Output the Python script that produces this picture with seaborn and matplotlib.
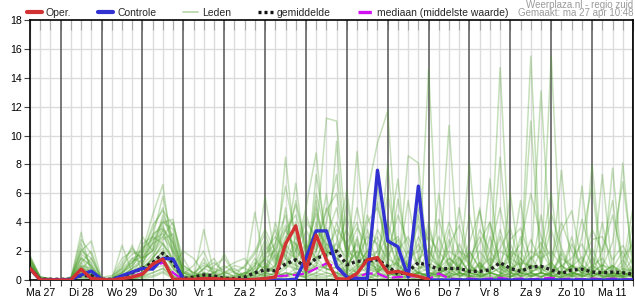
import numpy as np
import pandas as pd
import matplotlib
matplotlib.use("Agg")
import matplotlib.pyplot as plt
from matplotlib.lines import Line2D
import seaborn as sns

# ---------------- data ----------------
day_labels = ["Ma 27", "Di 28", "Wo 29", "Do 30", "Vr 1", "Za 2", "Zo 3", "Ma 4",
              "Di 5", "Wo 6", "Do 7", "Vr 8", "Za 9", "Zo 10", "Ma 11"]
start_hour = 6          # Ma 27 06:00
step_hours = 6
n_steps = 60

oper = [0.8, 0, 0, 0, 0, 0.75, 0.1, 0.05, 0, 0.1,
        0.2, 0.4, 1.1, 1.45, 0.05, 0.05, 0.05, 0.1, 0.1, 0.05,
        0.05, 0, 0.05, 0.1, 0.2, 2.5, 3.75, 0.7, 3.1, 1.4,
        0.1, 0.05, 0.45, 1.4, 1.55, 0.5, 0.6, 0.4, 0.25, 0.05]

controle = [0.8, 0, 0, 0, 0.05, 0.35, 0.62, 0.05, 0, 0.3,
            0.55, 0.8, 0.75, 1.5, 1.45, 0.05, 0, 0, 0, 0,
            0, 0, 0, 0, 0, 0, 0.05, 1.5, 3.4, 3.4,
            0.95, 0.2, 0.1, 0.1, 7.6, 2.7, 2.3, 0.2, 6.5, 0,
            0, 0, 0, 0, 0, 0, 0, 0, 0, 0,
            0, 0, 0, 0, 0, 0, 0, 0, 0, 0]

gemiddelde = [0.8, 0.05, 0.05, 0.05, 0.05, 0.3, 0.3, 0.05, 0.05, 0.25,
              0.5, 0.8, 1.2, 1.85, 1.2, 0.1, 0.2, 0.35, 0.3, 0.1,
              0.1, 0.2, 0.5, 0.7, 0.65, 1.1, 1.4, 0.9, 1.5, 1.75,
              2.0, 1.05, 1.3, 1.3, 1.4, 0.95, 0.4, 0.6, 1.2, 1.0,
              0.75, 0.8, 0.8, 0.6, 0.6, 0.7, 1.2, 0.8, 0.6, 0.9,
              0.95, 0.7, 0.45, 0.7, 0.75, 0.55, 0.5, 0.55, 0.5, 0.4]

mediaan = [0.8, 0, 0, 0, 0, 0.35, 0.2, 0, 0, 0.1,
           0.25, 0.5, 0.9, 1.2, 0.5, 0, 0, 0.05, 0.05, 0,
           0, 0, 0.05, 0.1, 0.25, 0.3, 0.35, 0.45, 0.8, 1.15,
           0.9, 0.1, 0.2, 0.45, 0.45, 0.15, 0.2, 0.25, 0.25, 0.05,
           0.45, 0.1, 0.05, 0.1, 0.05, 0.1, 0.15, 0.05, 0.1, 0.05,
           0.1, 0.15, 0.05, 0.1, 0.05, 0.1, 0.05, 0.1, 0.05, 0.05]

leden = [
    [1.7,0.2,0.1,0,0,3.3,0.4,0,0.1,0.5, 1.2,2.0,4.5,6.6,1.5,0.3,0.2,0.5,0.2,0, 0,0.2,0.5,1.5,0.8,8.5,2.0,1.2,3.0,11.2, 11.0,2.5,0.8,1.5,2.0,0.5,0.2,1.0,0.5,0.8, 0.3,1.2,0.5,2.0,0.8,0.5,3.5,1.0,0.2,1.5, 2.0,0.8,0.3,1.0,0.5,1.5,0.3,0.8,2.0,0.5],
    [1.0,0.1,0,0,0.1,2.0,2.7,0.1,0,0.3, 0.8,1.5,2.5,4.0,4.2,0.5,0.1,3.5,0.5,0.2, 0.1,0.3,4.7,0.8,0.5,2.0,6.7,1.5,0.8,1.0, 9.6,0.5,8.9,1.0,0.6,0.2,1.5,0.5,0.3,0.2, 0,0.5,1.0,0.3,0,0.8,1.2,0.5,0,0.3, 0.5,0.2,0,0.3,1.0,0.2,0.5,0.1,0.3,0.8],
    [0.8,0,0,0,0,1.5,1.0,0,0,2.4, 0.5,1.0,3.0,5.8,2.5,0.2,0,0.8,1.5,0.3, 0,0.1,0.8,5.8,1.5,1.0,2.0,5.0,8.8,2.0, 1.5,0.8,0.5,6.0,9.5,11.7,1.0,0.3,0.5,0.2, 1.0,0.3,0.2,0.8,0.5,0,0.3,2.5,0.8,0.5, 0.2,0.5,1.0,0.3,0,0.2,0,0.5,0.2,0],
    [1.2,0.1,0.1,0,0.2,1.0,0.5,0.2,0.3,0.8, 2.4,0.5,1.5,3.5,1.0,2.0,1.5,0.5,0.3,1.8, 0.5,0.2,0.1,0.5,4.0,1.5,0.5,0.2,7.3,3.0, 0.8,5.5,1.0,0.5,0.2,2.5,7.0,0.5,0.2,14.6, 0.5,0.2,1.5,0.5,0.3,1.0,0.5,0.2,0.8,0.2, 0.5,1.0,0.3,0.2,0.5,0.8,0.2,0.3,0.5,0.2],
    [0.6,0,0,0,0,0.5,0.2,0,0,0.2, 0.4,0.8,1.2,2.0,0.8,0,0,0.2,0.1,0, 0,0,0.2,0.5,0.3,0.8,1.5,0.5,1.0,2.5, 1.8,0.3,0.5,1.2,0.8,0.3,0.5,8.6,8.1,0.5, 0.2,10.7,0.5,0.3,0.2,0.5,0.8,0.3,0.2,0.5, 0.3,0.2,0.5,0.2,6.5,0.3,0.5,1.0,0.2,0.3],
    [1.5,0.2,0,0,0.1,1.8,1.2,0,0,0.5, 1.0,3.0,2.0,4.5,3.0,0.5,0.3,0.2,0.5,0.8, 1.2,1.5,0.5,0.3,2.5,4.5,1.0,3.5,2.0,5.0, 3.0,1.0,2.0,0.5,1.5,0.8,0.3,1.2,2.5,1.0, 0.5,0.8,0.3,8.1,0.5,0.2,8.5,0.5,0.3,1.0, 0.8,0.3,2.0,0.5,0.3,1.0,0.5,0.3,0.2,0.5],
    [0.9,0,0,0,0,0.8,0.3,0,0,0.1, 0.3,0.5,1.0,1.5,0.5,0.1,0,0.1,0,0, 0,0,0,0.2,0.5,0.3,0.8,0.5,1.2,0.8, 0.5,0.2,0.3,0.5,1.0,0.5,0.2,0.3,0.5,0.2, 0.8,0.3,0.5,0.2,1.2,0.5,0.3,6.0,0.5,15.5, 0.5,0.3,0.2,0.5,0.3,0.2,0.8,0.3,0.5,0.2],
    [1.1,0.1,0,0,0,2.5,0.8,0.1,0,1.0, 1.8,2.0,3.5,5.0,2.0,0.3,0.2,1.5,0.3,0.1, 0.2,0.5,0.3,2.5,1.0,3.0,2.5,1.0,4.0,1.5, 2.5,1.5,5.0,2.0,3.0,1.0,0.5,2.0,1.0,0.5, 0.3,1.5,0.8,0.5,0.3,0.2,14.7,0.5,0.3,0.5, 0.2,0.5,0.3,1.0,0.5,0.3,0.2,0.5,0.3,0.5],
    [0.7,0,0,0,0,0.3,0.1,0,0,0, 0.2,0.3,0.8,1.0,0.3,0,0,0,0,0, 0,0,0,0,0.2,0.5,0.3,0.2,0.5,1.0, 0.8,0.3,0.2,0.5,0.3,0.2,0.1,0.3,0.2,0.5, 0.3,0.2,0.5,0.3,0.2,0.5,0.3,0.2,0.5,11.0, 0.5,0.3,0.2,0.5,0.3,0.2,7.3,0.5,0.3,0.2],
    [1.3,0.2,0.1,0,0,1.2,2.0,0,0.1,0.8, 1.5,1.2,2.5,3.0,4.0,1.0,0.5,0.3,0.2,0.5, 0.8,0.3,1.5,0.5,1.0,2.0,5.5,2.5,1.5,3.0, 5.0,2.0,1.5,3.0,2.5,1.5,1.0,0.5,1.5,2.0, 1.0,0.5,2.5,1.0,0.5,2.0,1.0,0.5,1.5,0.8, 13.1,1.0,0.5,0.3,1.0,0.5,0.3,7.75,0.5,0.3],
    [0.9,0,0,0,0,0.6,0.3,0,0,0.2, 0.6,0.8,1.5,2.5,1.2,0.2,0.1,0.3,0.2,0.1, 0,0.1,0.3,1.0,0.5,1.5,1.0,0.8,2.5,1.5, 1.0,0.5,1.0,2.0,1.5,0.5,0.3,1.0,0.5,0.3, 0.5,0.8,0.3,0.5,0.3,0.5,0.2,0.5,0.8,0.3, 0.5,15.5,0.5,0.3,0.2,0.5,0.3,0.2,0.5,0.3],
    [1.4,0.1,0,0,0,1.5,0.5,0,0,0, 0.5,1.5,2.0,3.5,2.5,0.5,0.3,0.2,1.0,1.5, 0.5,0.2,0.5,0.3,1.0,2.5,1.5,0.5,5.5,0.8, 0.5,0.3,0.8,1.5,0.5,2.0,0.5,0.3,0.5,0.3, 6.0,0.5,0.3,0.5,1.0,0.5,0.3,0.8,0.5,1.0, 0.5,0.3,1.0,0.5,0.3,0.5,0.2,0.3,8.1,0.5],
    [0.8,0,0,0,0,0.4,0.2,0,0,0.1, 0.2,0.5,1.0,1.8,0.8,0,0,0,0,0, 0,0,0.1,0.3,0.5,0.3,0.5,0.3,0.8,0.5, 0.3,0.2,0.5,0.3,0.8,0.5,0.3,0.2,0.5,0.3, 0.2,0.5,0.3,0.2,0.5,0.3,0.2,0.5,0.3,0.2, 0.5,0.3,0.2,0.5,0.3,8.0,0.5,0.3,0.2,0.5],
    [1.0,0.1,0,0.1,0.1,0.8,0.6,0,0,0.3, 0.8,2.5,3.0,2.5,1.5,0.2,0.2,0.5,0.3,0.2, 0.3,0.5,0.5,1.5,2.0,1.0,3.0,1.5,2.0,4.0, 7.3,1.5,2.5,1.0,2.0,4.0,1.5,1.0,3.0,1.5, 1.0,2.0,1.5,0.5,2.0,1.0,0.5,2.0,1.5,0.5, 1.0,0.5,1.5,1.0,0.5,1.0,0.5,1.0,0.5,1.0],
    [0.7,0,0,0,0,0.2,0.1,0,0,0, 0.1,0.2,0.5,0.8,0.2,0,0,0,0,0, 0,0,0,0.1,0.2,0.5,0.3,0.2,0.5,0.3, 0.2,0.5,0.3,0.2,0.5,8.0,0.5,0.3,0.2,0.5, 0.3,0.2,0.5,0.3,0.2,0.5,0.3,0.2,0.5,0.3, 0.2,0.5,7.6,0.3,0.2,0.5,0.3,0.2,0.5,0.3],
    [1.2,0.1,0,0,0,1.0,0.8,0,0,0.5, 1.0,1.8,3.0,4.0,3.5,1.0,0.5,1.0,0.8,0.5, 0.3,1.0,2.0,3.5,2.0,3.5,4.5,2.0,3.5,2.5, 2.0,3.5,1.5,4.0,5.0,2.5,3.0,1.5,2.0,3.0, 2.0,1.0,2.0,1.5,3.0,1.0,2.0,1.5,1.0,2.0, 1.5,2.0,1.0,1.5,2.5,1.0,1.5,0.5,1.0,5.0],
    [0.8,0,0,0,0,0.5,0.3,0,0,0.2, 0.5,0.8,1.2,2.0,1.0,0.1,0,0.2,0.1,0, 0,0,0.2,0.5,0.3,1.0,0.8,0.5,1.0,0.8, 0.5,1.0,0.5,0.8,0.5,0.3,0.5,0.8,0.3,0.5, 0.5,0.3,0.8,0.5,0.3,7.0,0.5,0.3,0.5,0.3, 0.5,0.3,0.5,0.3,0.5,0.3,0.5,0.3,0.5,0.3],
    [1.6,0.2,0.1,0,0,2.0,1.5,0.1,0.2,1.5, 2.0,1.5,2.0,3.0,2.0,0.8,0.5,0.3,0.5,1.0, 0.5,0.3,1.0,2.0,3.0,2.0,1.5,2.5,1.5,2.0, 1.5,1.0,2.0,1.5,1.0,0.5,2.0,1.0,0.8,1.2, 0.8,1.5,1.0,2.0,0.8,1.5,1.0,0.8,1.2,1.0, 0.8,1.2,0.5,1.0,0.8,0.5,1.0,0.8,0.5,0.8],
    [0.9,0,0,0,0,0.3,0.2,0,0,0, 0.3,0.5,1.0,1.5,0.5,0,0,0,0,0, 0,0,0,0.3,0.2,0.5,0.3,0.5,0.3,0.5, 0.3,0.8,0.2,0,0.5,1.2,0.3,0.1,0.6,0.2, 0.5,0.2,0.1,0.8,0.3,0,0.4,0.9,0.2,0.5, 0.2,0.6,0.1,0.4,0.8,0.2,0.1,0.5,0.3,0.7],
    [1.0,0,0,0,0,1.2,0.5,0,0,0.3, 0.8,1.2,2.2,3.8,1.8,0.3,0.1,0.2,0.1,0, 0,0.2,0.3,1.0,0.5,5.0,1.0,0.3,2.0,6.0, 1.0,0.5,3.0,0.5,6.5,1.0,0.3,0.5,4.5,0.3, 0.2,3.5,0.5,0.2,5.0,0.3,0,2.0,0.5,0.3, 4.5,0.2,0.5,3.0,0.3,0.5,4.0,0.2,0.3,3.0],
    [0.7,0,0,0,0,0.2,0,0,0,0, 0,0.3,0.5,0.8,0.3,0,0,0,0,0, 0,0,0,0,0.1,0.2,0.5,0.1,0.3,0.2, 0.5,0.1,0,0.3,0,0.2,0,0,0.1,0, 0,0.2,0,0,0.1,0,0,0.3,0,0.1, 0,0,0.2,0,0,0.1,0,0,0.2,0],
    [1.1,0.1,0,0,0,0.9,0.4,0,0,0.6, 1.2,2.2,2.8,3.2,2.2,0.4,1.0,2.0,0.3,0.2, 0.1,0.3,1.0,2.8,1.2,3.5,2.0,4.0,3.0,1.5, 4.0,2.0,0.5,3.5,1.0,6.0,2.0,3.0,1.0,4.0, 1.0,0.5,5.0,1.0,0.5,4.0,1.0,0.5,3.0,0.5, 2.0,6.0,0.5,2.5,1.0,0.5,2.0,5.5,0.5,1.5],
    [0.8,0,0,0,0,0.1,0,0,0,0, 0.1,0.2,0.3,0.6,0.2,0,0,0,0,0, 0,0,0,0.1,0,0.3,0.1,0,0.2,0.1, 0,0.2,0,0.1,0.3,0,0.1,0,0.2,0, 0.1,0,0,0.2,0,0.1,0,0,0.1,0, 0,0.2,0,0,0.1,0,0,0.2,0,0],
    [1.3,0.1,0,0,0,0.7,1.5,0.1,0,0.2, 0.6,1.0,1.8,2.8,3.2,0.5,0.2,0.8,0.5,0.3, 0.2,0.5,0.8,1.5,3.5,1.5,4.0,1.0,6.0,3.0, 2.0,4.5,1.0,2.0,0.5,3.0,1.0,5.5,1.5,0.5, 3.0,1.0,0.5,4.5,1.0,0.5,3.0,1.0,5.5,0.5, 1.0,3.5,1.0,0.5,3.0,6.5,0.5,1.0,0.5,4.0],
    [0.9,0,0,0,0,0,0,0,0,0, 0,0.1,0.2,0.5,0.1,0,0,0,0,0, 0,0,0,0,0,0.1,0,0,0.1,0, 0.2,0,0,0,0.1,0,0,0.2,0,0, 0,0,0.1,0,0,0,0.2,0,0,0, 0.1,0,0,0,0,0,0.1,0,0,0],
    [1.0,0.1,0,0,0.2,2.8,1.8,0,0,0.4, 1.5,1.8,3.8,4.8,3.8,1.5,0.3,0.3,0.2,0.5, 1.0,0.8,0.5,1.8,2.5,6.5,3.0,1.5,5.0,2.0, 3.5,2.5,4.0,1.0,3.5,2.0,4.5,2.5,1.0,3.5, 1.5,4.0,2.0,1.0,3.5,2.0,5.0,1.5,2.5,6.0, 3.0,1.5,4.0,2.0,1.0,3.5,2.0,4.5,1.5,2.5],
    [1.4,0.1,0,0,0,1.6,0.9,0,0,0.7, 1.3,1.6,2.6,4.2,2.8,0.6,0.4,1.2,0.6,0.4, 0.6,0.9,1.8,3.2,1.4,2.8,5.2,2.2,4.6,1.8, 2.6,6.2,1.2,4.5,2.2,1.0,5.6,1.8,3.8,1.2, 4.2,1.6,0.8,2.6,4.8,1.2,2.2,3.6,0.8,2.8, 1.2,4.6,2.2,0.8,4.2,1.6,0.9,2.6,6.8,1.2],
    [0.8,0,0,0,0,0.9,0.3,0,0,0.1, 0.4,0.7,1.6,2.2,0.9,0.1,0,0.4,0.2,0, 0,0.2,0.6,1.2,0.6,1.8,0.7,2.4,1.2,3.6, 1.2,0.6,2.8,0.8,1.6,3.2,0.6,1.4,0.4,2.2, 0.6,2.8,0.4,1.2,0.3,3.0,0.8,0.4,2.0,0.6, 0.8,0.4,1.8,0.6,0.3,2.2,0.6,0.4,1.4,0.3],
    [1.5,0.2,0,0,0.1,2.2,1.0,0,0.1,1.2, 2.2,1.4,3.2,3.6,2.6,0.7,0.2,0.8,1.2,0.6, 0.2,0.4,1.2,0.8,2.2,3.8,1.6,4.5,2.5,4.8, 6.0,1.8,3.6,2.4,5.4,1.6,2.8,0.8,5.0,2.6, 0.8,2.4,3.8,1.0,2.6,4.0,1.2,2.8,3.6,1.4, 2.6,1.0,3.4,4.8,1.2,2.8,3.0,1.4,2.4,1.0],
    [0.9,0,0,0,0,0.6,0.4,0,0,0.2, 0.5,0.9,1.4,2.6,1.4,0.2,0,0,0.1,0.2, 0.1,0,0.4,0.6,1.8,0.8,2.6,0.6,1.6,0.7, 0.9,1.4,0.4,1.8,0.6,0.9,1.2,0.3,0.8,1.0, 0.4,0.9,1.6,0.5,1.2,0.4,0.9,1.3,0.4,1.6, 0.6,1.2,0.4,0.9,1.6,0.5,1.1,0.4,0.8,0.6],
]

# ---------------- styling ----------------
c_red = "#d23232"
c_blue = "#3232d2"
c_green = "#4c9f2a"
c_mag = "#d010f0"

sns.set_theme(style="white")
plt.rcParams["font.family"] = ["Liberation Sans", "DejaVu Sans"]

uren = start_hour + step_hours * np.arange(n_steps)

df_leden = pd.DataFrame({
    "uur": np.tile(uren, len(leden)),
    "mm": np.concatenate([np.asarray(m, float) for m in leden]),
    "lid": np.repeat(np.arange(len(leden)), n_steps),
})
df_oper = pd.DataFrame({"uur": uren[:len(oper)], "mm": oper})
df_ctrl = pd.DataFrame({"uur": uren[:len(controle)], "mm": controle})
df_mean = pd.DataFrame({"uur": uren, "mm": gemiddelde})
df_med = pd.DataFrame({"uur": uren, "mm": mediaan})

fig = plt.figure(figsize=(6.35, 3.0), dpi=100)
ax = fig.add_axes([30 / 635, 20 / 300, 603 / 635, 260 / 300])

x0, x1 = start_hour, 24 * len(day_labels)
# grid
for h in np.arange(x0, x1 + 1, 6):
    if h % 24 == 0:
        ax.axvline(h, color="#555555", lw=1.1, zorder=1)
    else:
        ax.axvline(h, color="#dcdcdc", lw=1.0, zorder=0)
for v in range(2, 18, 2):
    ax.axhline(v, color="#dcdcdc", lw=1.0, zorder=0)

sns.lineplot(data=df_leden, x="uur", y="mm", units="lid", estimator=None,
             color=c_green, alpha=0.32, lw=1.1, ax=ax, legend=False, zorder=2)
sns.lineplot(data=df_med, x="uur", y="mm", color=c_mag, lw=1.6, ax=ax,
             linestyle=(0, (5, 2)), zorder=4)
sns.lineplot(data=df_mean, x="uur", y="mm", color="#222222", lw=2.4, ax=ax,
             linestyle=(0, (0.9, 0.9)), zorder=4)
sns.lineplot(data=df_ctrl, x="uur", y="mm", color=c_blue, lw=2.4, ax=ax, zorder=5)
sns.lineplot(data=df_oper, x="uur", y="mm", color=c_red, lw=2.4, ax=ax, zorder=6)

ax.set_xlim(x0, x1)
ax.set_ylim(0, 18)
ax.set_xlabel("")
ax.set_ylabel("")
ax.set_yticks(range(0, 19, 2))
ax.set_xticks(np.arange(12, x1, 24))
ax.set_xticklabels(day_labels)
ax.set_xticks(np.arange(x0, x1 + 1, 6), minor=True)
ax.tick_params(axis="both", which="both", length=4, width=0.8, color="#444444",
               labelsize=7.6, pad=2, bottom=True, left=True, labelcolor="black")

sec = ax.secondary_xaxis("top")
sec.set_xticks(np.arange(x0, x1 + 1, 6))
sec.tick_params(direction="in", length=7, width=0.8, color="#aaaaaa", labeltop=False)
sec.spines["top"].set_visible(False)

for s in ax.spines.values():
    s.set_color("black")
    s.set_linewidth(1.2)

# legend
handles = [
    Line2D([], [], color=c_red, lw=3),
    Line2D([], [], color=c_blue, lw=3),
    Line2D([], [], color="#b5d6a5", lw=1.2),
    Line2D([], [], color="#111111", lw=2.4, linestyle=(0, (0.9, 0.9))),
    Line2D([], [], color=c_mag, lw=2.4, linestyle=(0, (4, 1.5, 0.6, 1.5))),
]
labels = ["Oper.", "Controle", "Leden", "gemiddelde", "mediaan (middelste waarde)"]
fig.legend(handles, labels, loc="center left", bbox_to_anchor=(27 / 635, 1 - 13 / 300),
           ncol=5, frameon=False, fontsize=7.5, handlelength=1.4, handletextpad=0.4,
           columnspacing=2.6, borderpad=0, borderaxespad=0)

fig.text(633 / 635, 1 - 4.5 / 300, "Weerplaza.nl - regio zuid", ha="right", va="center",
         color="#9a9a9a", fontsize=7.0)
fig.text(633 / 635, 1 - 13.5 / 300, "Gemaakt: ma 27 apr 10:48", ha="right", va="center",
         color="#9a9a9a", fontsize=7.0)

fig.savefig("out.png", dpi=100)
